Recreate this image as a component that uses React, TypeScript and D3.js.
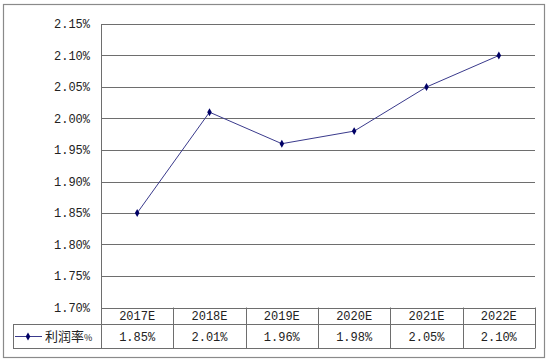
import React, { useEffect, useRef } from 'react';
import * as d3 from 'd3';

const years = ['2017E', '2018E', '2019E', '2020E', '2021E', '2022E'];
const margins = [1.85, 2.01, 1.96, 1.98, 2.05, 2.10];
const valueLabels = ['1.85%', '2.01%', '1.96%', '1.98%', '2.05%', '2.10%'];
const yTicks = [1.70, 1.75, 1.80, 1.85, 1.90, 1.95, 2.00, 2.05, 2.10, 2.15];
const seriesName = '利润率%';

const W = 550;
const H = 363;
const PLOT = { left: 101, right: 535, top: 24, bottom: 307.5 };
const ROW1 = 324.5;
const ROW2 = 348.5;
const LEGEND_LEFT = 13;

const GRID = '#6e6e6e';
const LINE = '#3a3a8c';
const MARK = '#000066';
const MONO = '"Liberation Mono", "DejaVu Sans Mono", monospace';

export default function App() {
    const svgRef = useRef<SVGSVGElement>(null);

    useEffect(() => {
        if (!svgRef.current) return;
        const svg = d3.select(svgRef.current);
        svg.selectAll('*').remove();

        const x = d3.scaleBand().domain(years).range([PLOT.left, PLOT.right]);
        const y = d3.scaleLinear().domain([1.70, 2.15]).range([PLOT.bottom, PLOT.top]);

        // 外框
        svg.append('rect')
            .attr('x', 3.5).attr('y', 4.5)
            .attr('width', 541).attr('height', 353)
            .attr('fill', 'white')
            .attr('stroke', '#8a8a8a')
            .attr('stroke-width', 1.2);

        // 水平格線
        svg.selectAll('line.grid').data(yTicks.slice(1)).enter()
            .append('line')
            .attr('x1', PLOT.left).attr('x2', PLOT.right)
            .attr('y1', d => Math.round(y(d)) + 0.5).attr('y2', d => Math.round(y(d)) + 0.5)
            .attr('stroke', GRID).attr('stroke-width', 1);

        // 刻度文字
        svg.selectAll('text.ytick').data(yTicks).enter()
            .append('text')
            .attr('x', 90)
            .attr('y', d => y(d))
            .attr('dy', '0.35em')
            .attr('text-anchor', 'end')
            .text(d => `${d.toFixed(2)}%`)
            .style('font-family', MONO)
            .style('font-size', '12px')
            .style('fill', '#222');

        // 左軸
        svg.append('line')
            .attr('x1', PLOT.left + 0.5).attr('x2', PLOT.left + 0.5)
            .attr('y1', PLOT.top).attr('y2', ROW2)
            .attr('stroke', GRID);

        // 資料表
        const t = svg.append('g');
        t.append('line').attr('x1', PLOT.left).attr('x2', PLOT.right)
            .attr('y1', Math.round(PLOT.bottom) + 0.5).attr('y2', Math.round(PLOT.bottom) + 0.5)
            .attr('stroke', GRID);
        t.append('line').attr('x1', LEGEND_LEFT).attr('x2', PLOT.right)
            .attr('y1', ROW1).attr('y2', ROW1).attr('stroke', GRID);
        t.append('line').attr('x1', LEGEND_LEFT).attr('x2', PLOT.right)
            .attr('y1', ROW2).attr('y2', ROW2).attr('stroke', GRID);
        t.append('line').attr('x1', LEGEND_LEFT + 0.5).attr('x2', LEGEND_LEFT + 0.5)
            .attr('y1', ROW1).attr('y2', ROW2).attr('stroke', GRID);
        t.selectAll('line.col').data(years).enter()
            .append('line')
            .attr('x1', d => Math.round(x(d)! + x.bandwidth()) + 0.5)
            .attr('x2', d => Math.round(x(d)! + x.bandwidth()) + 0.5)
            .attr('y1', PLOT.bottom).attr('y2', ROW2)
            .attr('stroke', GRID);

        t.selectAll('text.year').data(years).enter()
            .append('text')
            .attr('x', d => x(d)! + x.bandwidth() / 2)
            .attr('y', (PLOT.bottom + ROW1) / 2)
            .attr('dy', '0.35em')
            .attr('text-anchor', 'middle')
            .text(d => d)
            .style('font-family', MONO)
            .style('font-size', '12px')
            .style('fill', '#222');

        t.selectAll('text.val').data(valueLabels).enter()
            .append('text')
            .attr('x', (_, i) => x(years[i])! + x.bandwidth() / 2)
            .attr('y', (ROW1 + ROW2) / 2)
            .attr('dy', '0.35em')
            .attr('text-anchor', 'middle')
            .text(d => d)
            .style('font-family', MONO)
            .style('font-size', '12px')
            .style('fill', '#222');

        // 圖例
        const ly = (ROW1 + ROW2) / 2;
        t.append('line').attr('x1', 15).attr('x2', 42).attr('y1', ly).attr('y2', ly)
            .attr('stroke', LINE).attr('stroke-width', 1);
        t.append('path')
            .attr('d', d3.symbol(d3.symbolDiamond, 18)()!)
            .attr('transform', `translate(28,${ly})`)
            .attr('fill', MARK);
        t.append('text')
            .attr('x', 45).attr('y', ly).attr('dy', '0.35em')
            .text('利润率')
            .style('font-family', '"Noto Sans CJK SC", sans-serif')
            .style('font-size', '13px')
            .style('fill', '#222')
            .append('tspan')
            .text('%')
            .style('font-size', '9px');

        // 折線
        const pts = margins.map((v, i) => [x(years[i])! + x.bandwidth() / 2, y(v)] as [number, number]);
        svg.append('path')
            .attr('d', d3.line()(pts)!)
            .attr('fill', 'none')
            .attr('stroke', LINE)
            .attr('stroke-width', 1);
        svg.selectAll('path.pt').data(pts).enter()
            .append('path')
            .attr('d', d3.symbol(d3.symbolDiamond, 18)()!)
            .attr('transform', d => `translate(${d[0]},${d[1]})`)
            .attr('fill', MARK);
    }, []);

    return (
        <svg ref={svgRef} width={W} height={H}
            style={{ position: 'absolute', left: 0, top: 0, background: 'white' }} />
    );
}
